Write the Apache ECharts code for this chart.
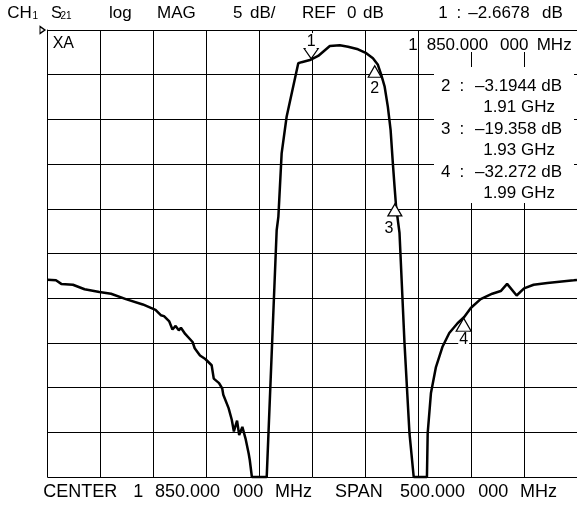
<!DOCTYPE html>
<html><head><meta charset="utf-8">
<script src="https://cdn.jsdelivr.net/npm/echarts@6/dist/echarts.min.js"></script>
<style>html,body{margin:0;padding:0;background:#fff}#c{width:577px;height:506px}</style>
</head><body><div id="c"></div>
<script>
// ---- data (frequency in MHz, |S21| in dB) ----
const freqMHz = [1600,1608,1613,1624,1635,1649,1660,1674,1690,1702,1707,1710,1715,1718,1721,1724,1726,1730,1737,1739,1744,1749,1755,1757,1762,1765,1766,1771,1774,1776,1779,1781,1784,1787,1790,1791,1793,1807,1808,1816.4,1818,1821.1,1825.8,1836.8,1839.9,1847.8,1855.6,1866.6,1876,1883.8,1893.2,1901,1907.3,1912,1915.1,1918.3,1921.4,1924,1926.1,1927.7,1929.2,1932.4,1937.1,1941.8,1945.8,1958.3,1959,1962.1,1966.8,1973.1,1979.4,1987.2,1993.5,1999.7,2009,2020,2028,2034,2043,2050,2059,2072,2097,2100];
const s21dB = [-27.95,-28.0,-28.4,-28.5,-29.0,-29.3,-29.5,-30.1,-30.7,-31.3,-31.9,-32.0,-32.6,-33.5,-33.1,-33.6,-33.3,-34.0,-34.9,-35.6,-36.4,-36.8,-37.5,-39.0,-39.5,-40.1,-40.8,-42.3,-43.6,-44.9,-43.7,-45.3,-44.4,-45.7,-47.4,-48.1,-50,-50,-50,-22.4,-20.9,-13.8,-9.7,-3.72,-3.6,-3.36,-2.9,-1.79,-1.71,-1.87,-2.16,-2.6,-3.17,-3.9,-5.0,-6.3,-8.6,-11.2,-14.9,-17.5,-19.8,-22.7,-35.0,-45.1,-50,-50,-45.1,-40.6,-37.7,-35.4,-33.9,-32.8,-32.1,-31.1,-30.1,-29.5,-29.2,-28.4,-29.7,-28.9,-28.5,-28.3,-28.0,-27.95];
const markerNames = ['1','2','3','4'];
const markerFreq = [1849,1909,1928,1993];
const markerDb = [-3.2,-4.0,-19.45,-32.25];
const headerTexts = ['CH','1','S','21','log','MAG','5','dB/','REF','0','dB','1',':','\u20132.6678','dB'];
const readoutTop = ['1','850.000','000','MHz'];
const readoutIdx = ['2','3','4'];
const readoutVal = ['\u20133.1944 dB','\u201319.358 dB','\u201332.272 dB'];
const readoutFreq = ['1.91 GHz','1.93 GHz','1.99 GHz'];
const footerTexts = ['CENTER','1','850.000','000','MHz','SPAN','500.000','000','MHz'];
const traceLabel = 'XA';

// ---- layout ----
const FONT = '"Liberation Sans", Arial, sans-serif';
const headerPos = [[7.3,13.3,17],[32.5,16,10],[51,13.3,16.5],[60.5,16,10],[109,13.3,17],[157,13.3,17],[233,13.3,17],[250,13.3,17],[302,13.3,17],[347,13.3,17],[363,13.3,17],[438.3,13.3,17],[456.5,13.3,17],[468.3,13.3,17],[542,13.3,17]];
const readoutTopPos = [408.3,426.7,500,536.7];
const footerPos = [43.3,133.3,155,233.3,275,335,400,478.3,520];
const markerSize = [[14,10],[13,11.5],[14,12],[15,13]];
const markerLabelDist = [-1,3,4,0];
const markerLabelOff = [[0,0],[0,0],[-6,0],[0,0]];

const graphic = [];
graphic.push({type:'rect', z:50, shape:{x:423,y:31,width:154,height:21}, style:{fill:'#fff'}});
graphic.push({type:'rect', z:50, shape:{x:434,y:67,width:140,height:136}, style:{fill:'#fff'}});
function txt(t,x,y,size,align){
  graphic.push({type:'text', z:60, x:x, y:y, style:{text:t, font:size+'px '+FONT, fill:'#000', align:align||'left', verticalAlign:'middle'}});
}
headerTexts.forEach((t,i)=>txt(t,headerPos[i][0],headerPos[i][1],headerPos[i][2]));
readoutTop.forEach((t,i)=>txt(t,readoutTopPos[i],45.3,17));
readoutIdx.forEach((t,i)=>{
  const y = 86.3 + i*43;
  txt(t,441,y,17);
  txt(':',459.5,y,17);
  txt(readoutVal[i],562,y,17,'right');
  txt(readoutFreq[i],555,y+21.5,17,'right');
});
footerTexts.forEach((t,i)=>txt(t,footerPos[i],491.7,18));
txt(traceLabel,52.7,44,16);

const markData = markerNames.map((n,i)=>{
  const down = i===0;
  return {
    name:n, coord:[markerFreq[i], markerDb[i]],
    symbol: down ? 'path://M0,0L12,0L6,9Z' : 'path://M6,0L12,9L0,9Z',
    symbolSize:markerSize[i], symbolKeepAspect:false,
    symbolOffset:[0, down ? '-50%' : '50%'],
    label:{show:true, formatter:n, position: down ? 'top' : 'bottom', distance: markerLabelDist[i],
      offset: markerLabelOff[i],
      color:'#000', fontSize:16, fontFamily:FONT, backgroundColor:'#fff', padding:[0,1,0,1]}
  };
});
markData.push({name:'ref', coord:[1600,0], symbol:'path://M0,0L6,4L0,8Z', symbolSize:[5,7], symbolOffset:[-5,0], label:{show:false}});

const lineColor = '#000';
const chart = echarts.init(document.getElementById('c'), null, {renderer:'canvas'});
chart.setOption({
  animation:false,
  backgroundColor:'#fff',
  grid:{left:47.5, top:30, width:532, height:447, containLabel:false},
  xAxis:{type:'value', min:1600, max:2100, interval:50,
    axisLine:{show:true, lineStyle:{color:lineColor,width:1}}, axisTick:{show:false}, axisLabel:{show:false},
    splitLine:{show:true, lineStyle:{color:lineColor,width:1}}},
  yAxis:{type:'value', min:-50, max:0, interval:5,
    axisLine:{show:true, lineStyle:{color:lineColor,width:1}}, axisTick:{show:false}, axisLabel:{show:false},
    splitLine:{show:true, lineStyle:{color:lineColor,width:1}}},
  series:[{
    type:'line', data: freqMHz.map((f,i)=>[f, s21dB[i]]), showSymbol:false, symbol:'none',
    lineStyle:{color:'#000', width:2.5}, z:5, clip:false,
    markPoint:{silent:true, z:8, itemStyle:{color:'#fff', borderColor:'#000', borderWidth:1.2}, data: markData}
  }],
  graphic: graphic
});
</script></body></html>
